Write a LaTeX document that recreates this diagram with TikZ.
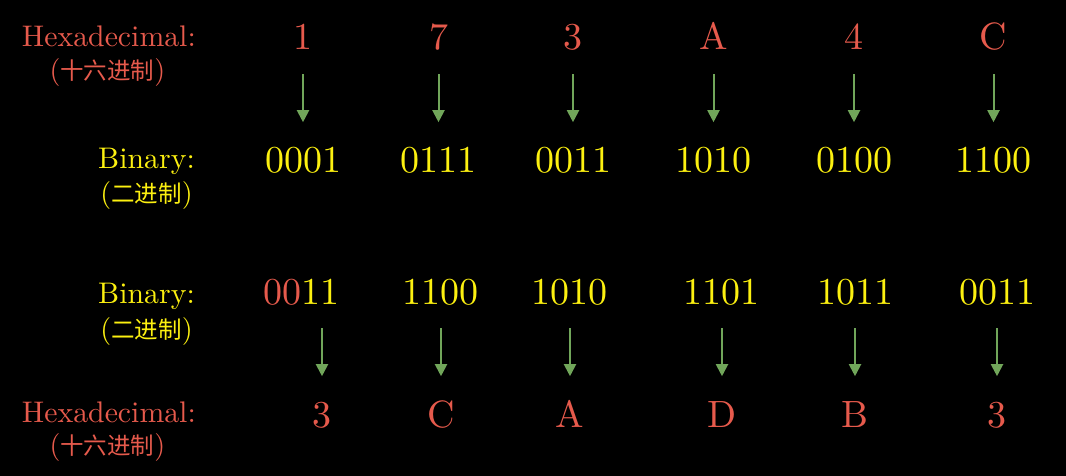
\documentclass[tikz,border=0pt]{standalone}
\usepackage{fontspec}
\setmainfont{lmroman10-regular.otf}
\newfontfamily\cjk{Noto Sans CJK SC}
\usetikzlibrary{arrows.meta}
\definecolor{hexred}{HTML}{E65A4C}
\definecolor{binyel}{HTML}{FCF010}
\definecolor{arrgreen}{HTML}{71A65A}
\tikzset{
  dig/.style={inner sep=0pt, anchor=base, text height=26.6pt, text depth=0pt, font=\fontsize{38}{40}\selectfont},
  hexd/.style={dig, text=hexred},
  bind/.style={dig, text=binyel},
  lab/.style={inner sep=0pt, anchor=base east, font=\fontsize{29.8}{34}\selectfont},
  sublab/.style={inner sep=0pt, anchor=center, font=\fontsize{28}{32}\selectfont},
  conv/.style={draw=arrgreen, line width=2pt, -{Triangle[width=12pt,length=12pt]}, shorten <=24pt, shorten >=24pt}
}
\newcommand\cjkt[1]{{\cjk\fontsize{23.5}{28}\selectfont #1}}
\begin{document}
\begin{tikzpicture}[x=1pt,y=-1pt]
\fill[black] (0,0) rectangle (1066,476);
\useasboundingbox (0,0) rectangle (1066,476);
% labels
\node[lab, text=hexred] (l1) at (196,47) {Hexadecimal:};
\node[sublab, text=hexred] (s1) at (107.5,73) {(\cjkt{十六进制})};
\node[lab, text=binyel] (l2) at (195,168) {Binary:};
\node[sublab, text=binyel] (s2) at (146.5,196) {(\cjkt{二进制})};
\node[lab, text=binyel] (l3) at (195,303) {Binary:};
\node[sublab, text=binyel] (s3) at (146.5,331) {(\cjkt{二进制})};
\node[lab, text=hexred] (l4) at (196,422) {Hexadecimal:};
\node[sublab, text=hexred] (s4) at (107.5,447) {(\cjkt{十六进制})};
% row 1
\node[hexd] (a1) at (303,50) {1};
\node[hexd] (a2) at (439,50) {7};
\node[hexd] (a3) at (573,50) {3};
\node[hexd] (a4) at (714,50) {A};
\node[hexd] (a5) at (854,50) {4};
\node[hexd] (a6) at (993.5,50) {C};
% row 2
\node[bind] (b1) at (303,173) {0001};
\node[bind] (b2) at (438.5,173) {0111};
\node[bind] (b3) at (573,173) {0011};
\node[bind] (b4) at (713.5,173) {1010};
\node[bind] (b5) at (854,173) {0100};
\node[bind] (b6) at (993.5,173) {1100};
% row 3
\node[bind] (c1) at (301,304) {\textcolor{hexred}{00}11};
\node[bind] (c2) at (440.5,304) {1100};
\node[bind] (c3) at (569.5,304) {1010};
\node[bind] (c4) at (721,304) {1101};
\node[bind] (c5) at (855,304) {1011};
\node[bind] (c6) at (997,304) {0011};
% row 4
\node[hexd] (d1) at (322,427) {3};
\node[hexd] (d2) at (441,427) {C};
\node[hexd] (d3) at (570,427) {A};
\node[hexd] (d4) at (722,427) {D};
\node[hexd] (d5) at (855,427) {B};
\node[hexd] (d6) at (997,427) {3};
% arrows
\foreach \i in {1,...,6}{
  \draw[conv] (b\i |- a\i.south) -- (b\i.north);
  \draw[conv] (d\i |- c\i.south) -- (d\i.north);
}
\end{tikzpicture}
\end{document}
